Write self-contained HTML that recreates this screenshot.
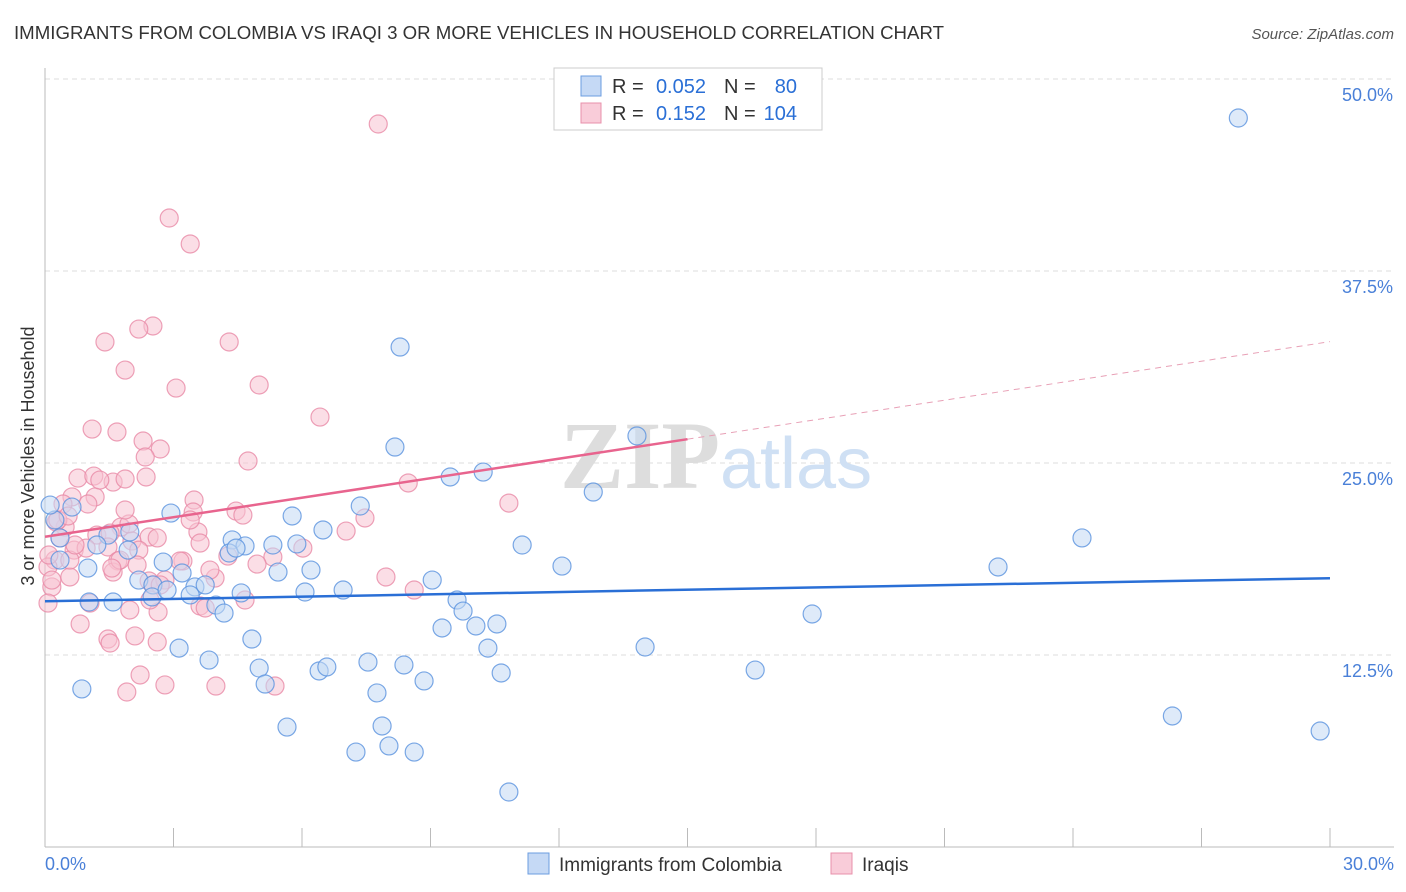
<!DOCTYPE html>
<html><head><meta charset="utf-8"><style>
body{margin:0;background:#fff;font-family:"Liberation Sans",sans-serif}
svg{display:block}
</style></head><body>
<svg width="1406" height="892" xmlns="http://www.w3.org/2000/svg">
<text x="14" y="39" font-size="18" fill="#333" textLength="930" lengthAdjust="spacingAndGlyphs">IMMIGRANTS FROM COLOMBIA VS IRAQI 3 OR MORE VEHICLES IN HOUSEHOLD CORRELATION CHART</text>
<text x="1394" y="39" font-size="15" fill="#555" text-anchor="end" font-style="italic">Source: ZipAtlas.com</text>
<g id="grid"></g>
<text x="720" y="488" font-size="96" fill="#ddd" text-anchor="end" font-family="Liberation Serif" font-weight="bold">ZIP</text>
<text x="720" y="488" font-size="72" fill="#cfe0f4">atlas</text>
<g id="axes"></g>
<g id="pts"></g>
<g id="trend"></g>
<text transform="translate(34,456) rotate(-90)" font-size="18" fill="#333" text-anchor="middle">3 or more Vehicles in Household</text>
<g font-size="20">
<rect x="554" y="68" width="268" height="62" fill="#fff" stroke="#ccc"/>
<rect x="581" y="76" width="20" height="20" fill="#c5d9f5" stroke="#6b9de0"/>
<rect x="581" y="103" width="20" height="20" fill="#f9ccd9" stroke="#e890ab"/>
<text x="612" y="93" fill="#333">R =</text><text x="706" y="93" fill="#2a6fd6" text-anchor="end">0.052</text>
<text x="724" y="93" fill="#333">N =</text><text x="797" y="93" fill="#2a6fd6" text-anchor="end">80</text>
<text x="612" y="120" fill="#333">R =</text><text x="706" y="120" fill="#2a6fd6" text-anchor="end">0.152</text>
<text x="724" y="120" fill="#333">N =</text><text x="797" y="120" fill="#2a6fd6" text-anchor="end">104</text>
</g>
<g>
<rect x="528" y="853" width="21" height="21" fill="#c5d9f5" stroke="#6b9de0"/>
<text x="559" y="871" font-size="19" fill="#333">Immigrants from Colombia</text>
<rect x="831" y="853" width="21" height="21" fill="#f9ccd9" stroke="#e890ab"/>
<text x="862" y="871" font-size="19" fill="#333">Iraqis</text>
</g>
</svg>
<script>
const blueX=[27.86,8.29,8.17,13.82,10.23,9.46,12.80,7.36,2.94,5.77,6.49,11.14,24.21,12.07,22.25,4.37,4.67,5.32,5.88,1.98,1.47,0.35,0.23,0.35,1.00,1.94,2.76,3.20,4.30,5.44,6.21,9.04,2.19,2.52,3.50,2.50,3.39,4.58,6.07,6.96,9.62,9.76,3.99,4.18,1.59,1.03,9.27,10.06,10.55,17.91,4.83,3.13,3.83,10.34,14.01,5.00,6.40,6.58,7.54,8.38,16.58,10.65,5.14,8.85,7.75,0.86,5.65,7.87,7.26,8.03,8.62,26.32,29.77,10.83,0.12,0.63,1.21,2.85,3.74,4.46];
const blueY=[47.46,32.55,26.04,26.76,24.41,24.09,23.11,22.20,21.74,21.55,20.64,19.66,20.12,18.29,18.23,19.99,19.60,19.66,19.73,20.51,20.31,20.12,21.29,18.68,18.16,19.33,18.55,17.84,19.14,17.90,18.03,17.38,17.38,17.06,16.93,16.28,16.41,16.54,16.60,16.73,16.08,15.36,15.75,15.23,15.95,15.95,14.26,14.39,14.52,15.17,13.54,12.95,12.17,12.95,13.02,11.65,11.46,11.72,12.04,11.85,11.52,11.33,10.61,10.81,10.03,10.29,7.81,7.88,6.18,6.58,6.18,8.53,7.55,3.58,22.26,22.13,19.66,16.73,17.06,19.46];
const pinkX=[7.78,2.90,3.39,2.52,2.19,1.40,4.30,1.87,3.06,5.00,6.42,1.10,1.68,2.29,2.69,2.34,4.74,0.77,1.14,1.59,1.87,2.36,0.63,1.17,0.42,1.00,3.48,4.46,4.62,3.46,10.83,8.48,7.47,7.03,1.77,1.96,2.43,1.21,1.52,2.03,2.62,3.57,0.47,0.26,0.35,0.68,0.96,1.47,2.19,3.22,3.62,5.32,6.02,4.95,4.27,1.70,1.59,1.75,2.43,2.52,3.62,3.74,3.97,7.96,8.62,1.56,0.23,0.07,0.16,0.58,0.07,1.05,1.98,2.64,0.82,1.47,1.52,2.10,2.62,2.22,2.80,1.91,3.99,5.37,0.16,0.09,0.58,0.30,0.54,1.28,0.70,3.15,2.80,2.15,4.67,3.85,2.45,3.39,1.87,2.69];
const pinkY=[47.07,40.95,39.26,33.92,33.72,32.88,32.88,31.05,29.88,30.08,27.99,27.21,27.02,26.43,25.91,25.39,25.13,24.02,24.15,23.76,23.96,24.09,22.79,22.79,22.33,22.33,22.59,21.87,21.61,21.81,22.39,23.70,21.42,20.57,20.83,21.03,20.18,20.31,20.44,19.92,20.12,20.51,20.83,21.16,20.12,19.33,19.46,19.53,19.33,18.62,19.79,18.88,19.46,18.42,18.94,18.62,17.90,18.68,17.32,17.06,15.69,15.56,17.51,17.58,16.73,18.16,18.68,18.23,16.93,17.58,15.88,15.88,15.43,15.30,14.52,13.54,13.28,13.74,13.35,11.20,10.55,10.09,10.48,10.48,17.38,19.01,18.68,21.29,21.55,23.89,19.66,18.62,17.38,18.36,16.08,18.03,16.08,21.29,21.94,17.06];
const yTicks=[12.5,25.0,37.5,50.0];
const xTickLabels=["0.0%","30.0%"];
const blueTrend=[16.0,17.5];
const pinkTrend=[20.2,32.9];
const pinkSolidEnd=15;
const NS="http://www.w3.org/2000/svg";
const X=v=>45+v/30*1285, Y=v=>847-v*15.36;
function mk(t,a,p){const e=document.createElementNS(NS,t);for(const k in a)e.setAttribute(k,a[k]);p.appendChild(e);return e;}
const grid=document.getElementById('grid'),axes=document.getElementById('axes'),pts=document.getElementById('pts'),trend=document.getElementById('trend');
yTicks.forEach(t=>{
 const l=mk('line',{x1:45,x2:1394,y1:Y(t),y2:Y(t),stroke:'#ddd','stroke-dasharray':'5,4'},grid);
 
 
 const tx=mk('text',{x:1393,y:Y(t)+22,'font-size':18,fill:'#4a80d8','text-anchor':'end'},axes);
 tx.textContent=t.toFixed(1)+'%';
 
 
});
const ya=mk('line',{x1:45,x2:45,y1:68,y2:847,stroke:'#bbb'},axes);


const xa=mk('line',{x1:45,x2:1394,y1:847,y2:847,stroke:'#bbb'},axes);


for(let i=0;i<=10;i++){const tk=mk('line',{x1:X(i*3),x2:X(i*3),y1:828,y2:847,stroke:'#bbb'},axes);
 
 }
[[0,'start',45],[30,'end',1394]].forEach((d,i)=>{const t=mk('text',{x:d[2],y:870,'font-size':18,fill:'#4a80d8','text-anchor':d[1]},axes);t.textContent=xTickLabels[i];
 
 });
function dots(xs,ys,fill,stroke,name){xs.forEach((x,i)=>{const c=mk('circle',{cx:X(x),cy:Y(ys[i]),r:9,fill:fill,'fill-opacity':0.55,stroke:stroke,'stroke-opacity':0.8,'stroke-width':1.2},pts);
 
 });}
dots(pinkX,pinkY,'#f7c3d2','#e88aa6','iraqi-point');
dots(blueX,blueY,'#c2d8f4','#5a92de','colombia-point');
const bl=mk('line',{x1:X(0),y1:Y(blueTrend[0]),x2:X(30),y2:Y(blueTrend[1]),stroke:'#2a6fd6','stroke-width':2.5},trend);


const pv=x=>pinkTrend[0]+(pinkTrend[1]-pinkTrend[0])*x/30;
const ps=mk('line',{x1:X(0),y1:Y(pv(0)),x2:X(pinkSolidEnd),y2:Y(pv(pinkSolidEnd)),stroke:'#e8648e','stroke-width':2.5},trend);


const pd=mk('line',{x1:X(pinkSolidEnd),y1:Y(pv(pinkSolidEnd)),x2:X(30),y2:Y(pv(30)),stroke:'#e8a0b6','stroke-width':1,'stroke-dasharray':'6,5'},trend);


</script>
</body></html>
